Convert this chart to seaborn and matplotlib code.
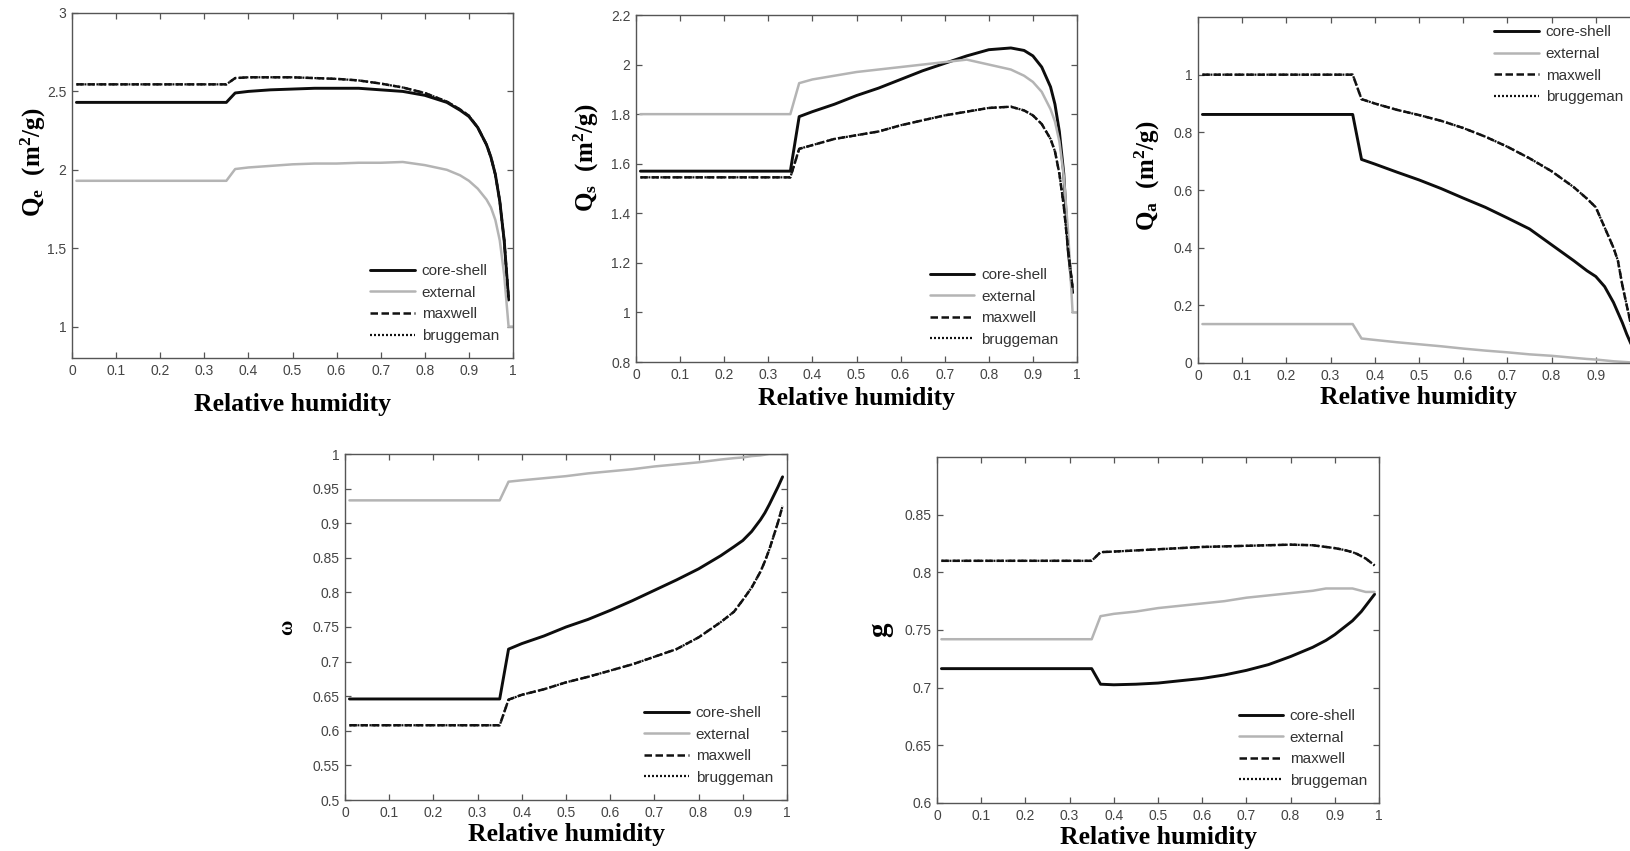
import numpy as np
import pandas as pd
import matplotlib
matplotlib.use("Agg")
import matplotlib.pyplot as plt
import seaborn as sns

# ---------------- data ----------------
RH = [0.01, 0.35, 0.37, 0.40, 0.45, 0.50, 0.55, 0.60, 0.65, 0.70, 0.75,
      0.80, 0.85, 0.88, 0.90, 0.92, 0.94, 0.95, 0.96, 0.97, 0.98, 0.99]
RH_EXT = RH + [1.0]

# Q_e (extinction)
qe_core = [2.43, 2.43, 2.49, 2.50, 2.51, 2.515, 2.52, 2.52, 2.52, 2.51, 2.50,
           2.475, 2.43, 2.38, 2.34, 2.27, 2.16, 2.08, 1.97, 1.80, 1.55, 1.17]
qe_ext = [1.93, 1.93, 2.005, 2.015, 2.025, 2.035, 2.04, 2.04, 2.045, 2.045, 2.05,
          2.03, 2.00, 1.965, 1.93, 1.88, 1.81, 1.76, 1.68, 1.55, 1.33, 1.00, 1.00]
qe_max = [2.545, 2.545, 2.585, 2.59, 2.59, 2.59, 2.585, 2.58, 2.57, 2.55, 2.525,
          2.49, 2.435, 2.385, 2.345, 2.27, 2.16, 2.08, 1.97, 1.80, 1.55, 1.18]
qe_brug = [2.545, 2.545, 2.585, 2.59, 2.59, 2.59, 2.585, 2.58, 2.57, 2.55, 2.525,
           2.49, 2.435, 2.385, 2.345, 2.27, 2.16, 2.08, 1.97, 1.80, 1.55, 1.18]

# Q_s (scattering)
qs_core = [1.57, 1.57, 1.79, 1.81, 1.84, 1.875, 1.905, 1.94, 1.975, 2.005, 2.035,
           2.06, 2.067, 2.057, 2.035, 1.99, 1.91, 1.84, 1.73, 1.56, 1.25, 1.08]
qs_ext = [1.80, 1.80, 1.925, 1.94, 1.955, 1.97, 1.98, 1.99, 2.00, 2.01, 2.02,
          2.00, 1.98, 1.955, 1.93, 1.89, 1.82, 1.77, 1.69, 1.55, 1.32, 1.00, 1.00]
qs_max = [1.545, 1.545, 1.66, 1.675, 1.70, 1.715, 1.73, 1.755, 1.775, 1.795, 1.81,
          1.825, 1.83, 1.815, 1.795, 1.76, 1.70, 1.65, 1.56, 1.43, 1.25, 1.10]
qs_brug = [1.545, 1.545, 1.66, 1.675, 1.70, 1.715, 1.73, 1.755, 1.775, 1.795, 1.81,
           1.825, 1.83, 1.815, 1.795, 1.76, 1.70, 1.65, 1.56, 1.43, 1.25, 1.10]

# Q_a (absorption)
qa_core = [0.862, 0.862, 0.706, 0.69, 0.662, 0.635, 0.605, 0.572, 0.54, 0.503, 0.465,
           0.41, 0.355, 0.32, 0.30, 0.265, 0.21, 0.175, 0.14, 0.10, 0.065, 0.04]
qa_ext = [0.135, 0.135, 0.085, 0.08, 0.072, 0.065, 0.058, 0.05, 0.043, 0.037, 0.03,
          0.025, 0.018, 0.014, 0.012, 0.009, 0.006, 0.005, 0.004, 0.003, 0.002, 0.001, 0.0]
qa_max = [1.0, 1.0, 0.915, 0.90, 0.878, 0.86, 0.84, 0.815, 0.785, 0.75, 0.71,
          0.665, 0.61, 0.57, 0.54, 0.47, 0.40, 0.355, 0.27, 0.20, 0.13, 0.06]
qa_brug = [1.0, 1.0, 0.915, 0.90, 0.878, 0.86, 0.84, 0.815, 0.785, 0.75, 0.71,
           0.665, 0.61, 0.57, 0.54, 0.47, 0.40, 0.355, 0.27, 0.20, 0.13, 0.06]

# single scattering albedo
w_core = [0.646, 0.646, 0.718, 0.726, 0.737, 0.75, 0.761, 0.774, 0.788, 0.803, 0.818,
          0.834, 0.853, 0.866, 0.875, 0.888, 0.905, 0.915, 0.927, 0.94, 0.953, 0.967]
w_ext = [0.933, 0.933, 0.960, 0.962, 0.965, 0.968, 0.972, 0.975, 0.978, 0.982, 0.985,
         0.988, 0.992, 0.994, 0.995, 0.997, 0.998, 0.999, 1.0, 1.0, 1.0, 1.0, 1.0]
w_max = [0.608, 0.608, 0.645, 0.652, 0.66, 0.67, 0.678, 0.687, 0.696, 0.707, 0.718,
         0.735, 0.757, 0.772, 0.789, 0.807, 0.83, 0.845, 0.862, 0.882, 0.902, 0.925]
w_brug = [0.608, 0.608, 0.645, 0.652, 0.66, 0.67, 0.678, 0.687, 0.696, 0.707, 0.718,
          0.735, 0.757, 0.772, 0.789, 0.807, 0.83, 0.845, 0.862, 0.882, 0.902, 0.925]

# asymmetry parameter
g_core = [0.7165, 0.7165, 0.703, 0.7025, 0.703, 0.704, 0.706, 0.708, 0.711, 0.715, 0.72,
          0.727, 0.735, 0.741, 0.746, 0.752, 0.758, 0.762, 0.766, 0.771, 0.776, 0.781]
g_ext = [0.742, 0.742, 0.762, 0.764, 0.766, 0.769, 0.771, 0.773, 0.775, 0.778, 0.780,
         0.782, 0.784, 0.786, 0.786, 0.786, 0.786, 0.785, 0.784, 0.783, 0.783, 0.783]
g_max = [0.810, 0.810, 0.8175, 0.818, 0.819, 0.820, 0.821, 0.822, 0.8225, 0.823, 0.8235,
         0.824, 0.8235, 0.822, 0.821, 0.8195, 0.8175, 0.816, 0.814, 0.812, 0.809, 0.806]
g_brug = [0.810, 0.810, 0.8175, 0.818, 0.819, 0.820, 0.821, 0.822, 0.8225, 0.823, 0.8235,
          0.824, 0.8235, 0.822, 0.821, 0.8195, 0.8175, 0.816, 0.814, 0.812, 0.809, 0.806]

SERIES = ["core-shell", "external", "maxwell", "bruggeman"]
X_TICKS = [0, 0.1, 0.2, 0.3, 0.4, 0.5, 0.6, 0.7, 0.8, 0.9, 1]
XLABEL = "Relative humidity"

# ---------------- style ----------------
sns.set_theme(style="white")
plt.rcParams["font.family"] = ["Liberation Sans", "DejaVu Sans"]
plt.rcParams["mathtext.fontset"] = "custom"
plt.rcParams["mathtext.rm"] = "Liberation Serif:bold"
plt.rcParams["mathtext.it"] = "Liberation Serif:bold"
plt.rcParams["mathtext.bf"] = "Liberation Serif:bold"

W, H = 1630, 851
fig = plt.figure(figsize=(W / 100, H / 100), dpi=100)
fig.patch.set_facecolor("white")

STY = {
    "core-shell": dict(color="#0d0d0d", lw=2.1, ls="-"),
    "external": dict(color="#b4b4b4", lw=1.8, ls="-"),
    "maxwell": dict(color="#111111", lw=1.8, ls=(0, (3.0, 1.4))),
    "bruggeman": dict(color="#111111", lw=1.6, ls=(0, (0.9, 0.9))),
}

panels = [
    dict(box=(72, 513, 13, 358), x=[RH, RH_EXT, RH, RH],
         y=[qe_core, qe_ext, qe_max, qe_brug], ylim=(0.8, 3),
         yticks=[1, 1.5, 2, 2.5, 3], ylabel=r"$\mathrm{Q_e\ \ (m^2/g)}$",
         ylab=(-0.088, 0.568), ysize=18, xlab=-0.136,
         leg=("lower right", (0.975, 0.035)), last_x=True),
    dict(box=(636, 1077, 15, 362), x=[RH, RH_EXT, RH, RH],
         y=[qs_core, qs_ext, qs_max, qs_brug], ylim=(0.8, 2.2),
         yticks=[0.8, 1, 1.2, 1.4, 1.6, 1.8, 2, 2.2], ylabel=r"$\mathrm{Q_s\ \ (m^2/g)}$",
         ylab=(-0.112, 0.588), ysize=18, xlab=-0.104,
         leg=("lower right", (0.965, 0.035)), last_x=True),
    dict(box=(1198, 1640, 17, 363), x=[RH, RH_EXT, RH, RH],
         y=[qa_core, qa_ext, qa_max, qa_brug], ylim=(0, 1.2),
         yticks=[0, 0.2, 0.4, 0.6, 0.8, 1], ylabel=r"$\mathrm{Q_a\ \ (m^2/g)}$",
         ylab=(-0.114, 0.54), ysize=18, xlab=-0.101,
         leg=("upper right", (0.968, 0.985)), last_x=False),
    dict(box=(345, 787, 454, 800), x=[RH, RH_EXT, RH, RH],
         y=[w_core, w_ext, w_max, w_brug], ylim=(0.5, 1),
         yticks=[0.5, 0.55, 0.6, 0.65, 0.7, 0.75, 0.8, 0.85, 0.9, 0.95, 1],
         ylabel="ω", ylab=(-0.131, 0.5), ysize=15, xlab=-0.101,
         leg=("lower right", (0.975, 0.035)), last_x=True),
    dict(box=(937, 1379, 457, 803), x=[RH, RH, RH, RH],
         y=[g_core, g_ext, g_max, g_brug], ylim=(0.6, 0.9),
         yticks=[0.6, 0.65, 0.7, 0.75, 0.8, 0.85], ylabel="g",
         ylab=(-0.129, 0.5), ysize=21, xlab=-0.101,
         leg=("lower right", (0.98, 0.035)), last_x=True),
]

SPINE = "#555555"
TICKC = "#444444"

for p in panels:
    x0, x1, y0, y1 = p["box"]
    ax = fig.add_axes([x0 / W, 1 - y1 / H, (x1 - x0) / W, (y1 - y0) / H])
    for name, xs, ys in zip(SERIES, p["x"], p["y"]):
        s = STY[name]
        sns.lineplot(x=xs, y=ys, ax=ax, color=s["color"], linewidth=s["lw"],
                     linestyle=s["ls"], label=name, estimator=None, sort=False)
    ax.set_xlim(0, 1)
    ax.set_ylim(*p["ylim"])
    ax.set_xticks(X_TICKS)
    xl = [f"{v:g}" for v in X_TICKS]
    if not p["last_x"]:
        xl[-1] = ""
    ax.set_xticklabels(xl)
    ax.set_yticks(p["yticks"])
    ax.set_yticklabels([f"{v:g}" for v in p["yticks"]])
    ax.tick_params(direction="in", length=4, width=0.9, colors=SPINE,
                   labelcolor=TICKC, labelsize=10, pad=4,
                   top=True, right=True, bottom=True, left=True)
    for sp in ax.spines.values():
        sp.set_color(SPINE)
        sp.set_linewidth(1.0)
        sp.set_visible(True)
    ax.set_facecolor("white")

    ax.set_xlabel(XLABEL, family="Liberation Serif", weight="bold",
                  fontsize=18.5, color="black", va="center")
    ax.xaxis.set_label_coords(0.5, p["xlab"])
    ax.set_ylabel(p["ylabel"], family="Liberation Serif", weight="bold",
                  fontsize=p["ysize"], color="black", va="center", ha="center")
    ax.yaxis.set_label_coords(*p["ylab"])

    h, l = ax.get_legend_handles_labels()
    loc, anchor = p["leg"]
    leg = ax.legend(h, l, loc=loc, bbox_to_anchor=anchor, frameon=False,
                    fontsize=11, handlelength=2.9, handletextpad=0.45,
                    labelspacing=0.5, borderpad=0.2, borderaxespad=0)
    for t in leg.get_texts():
        t.set_color("#333333")

fig.savefig("out.png", dpi=100, facecolor="white")
